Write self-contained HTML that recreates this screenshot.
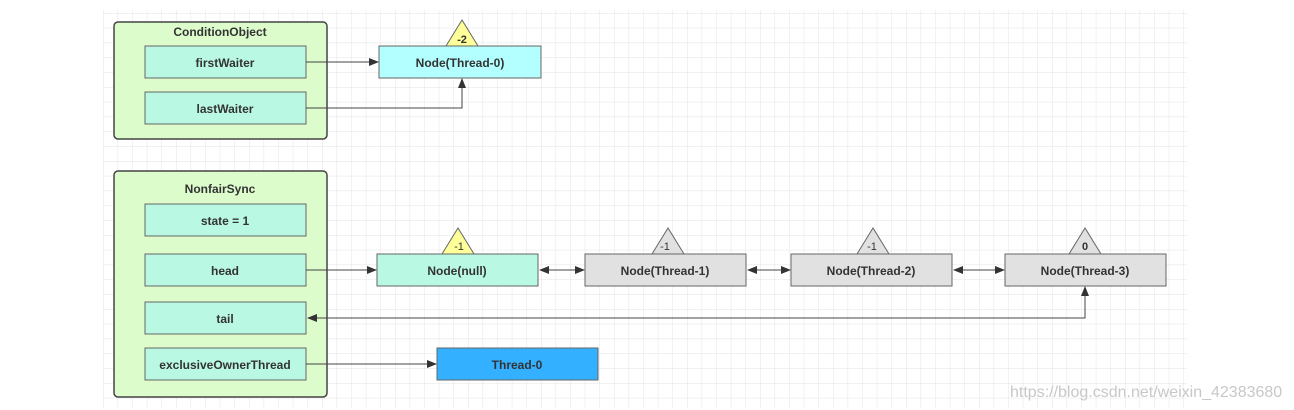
<!DOCTYPE html>
<html><head><meta charset="utf-8"><style>
html,body{margin:0;padding:0;background:#fff;width:1294px;height:410px;overflow:hidden}
text{font-family:"Liberation Sans",sans-serif;font-weight:bold;font-size:12px;fill:#333}
.n{font-weight:normal}
</style></head><body>
<svg width="1294" height="410" viewBox="0 0 1294 410" xmlns="http://www.w3.org/2000/svg">
<defs>
<pattern id="g" x="103" y="13" width="14.6" height="14.8" patternUnits="userSpaceOnUse">
<path d="M0 0H14.6M0 0V14.8" stroke="#e3e3e3" stroke-width="1" fill="none"/>
</pattern>
<marker id="a" markerWidth="10" markerHeight="8" refX="9" refY="4" orient="auto" markerUnits="userSpaceOnUse">
<path d="M0 0L10 4L0 8z" fill="#333"/></marker>
<marker id="s" markerWidth="10" markerHeight="8" refX="1" refY="4" orient="auto" markerUnits="userSpaceOnUse">
<path d="M10 0L0 4L10 8z" fill="#333"/></marker>
</defs>
<rect x="103" y="10" width="1084" height="398" fill="url(#g)"/>
<g stroke="#444" stroke-width="1.5">
<rect x="114" y="22" width="213" height="117" rx="4" fill="#ddfccc"/>
<rect x="114" y="171" width="213" height="226" rx="4" fill="#ddfccc"/>
</g>
<g stroke="#666" stroke-width="1" fill="#b9f8e3">
<rect x="145" y="46" width="161" height="32"/>
<rect x="145" y="92" width="161" height="32"/>
<rect x="145" y="204" width="161" height="32"/>
<rect x="145" y="254" width="161" height="32"/>
<rect x="145" y="302" width="161" height="32"/>
<rect x="145" y="348" width="161" height="32"/>
<rect x="377" y="254" width="161" height="32"/>
<rect x="379" y="46" width="162" height="32" fill="#b3ffff"/>
<rect x="437" y="348" width="161" height="32" fill="#33b0ff"/>
<rect x="585" y="254" width="161" height="32" fill="#e1e1e1"/>
<rect x="791" y="254" width="161" height="32" fill="#e1e1e1"/>
<rect x="1005" y="254" width="161" height="32" fill="#e1e1e1"/>
</g>
<g stroke="#666" stroke-width="1">
<path d="M462 20L446 46H478z" fill="#ffff99"/>
<path d="M458 228L442 254H474z" fill="#ffff99"/>
<path d="M668 228L652 254H684z" fill="#e1e1e1"/>
<path d="M873 228L857 254H889z" fill="#e1e1e1"/>
<path d="M1085 228L1069 254H1101z" fill="#e1e1e1"/>
</g>
<g stroke="#444" stroke-width="1" fill="none">
<path d="M306 62H378" marker-end="url(#a)"/>
<path d="M306 108H462V79" marker-end="url(#a)"/>
<path d="M306 270H376" marker-end="url(#a)"/>
<path d="M540 270H584" marker-start="url(#s)" marker-end="url(#a)"/>
<path d="M748 270H790" marker-start="url(#s)" marker-end="url(#a)"/>
<path d="M954 270H1004" marker-start="url(#s)" marker-end="url(#a)"/>
<path d="M1085 287V318H308" marker-start="url(#s)" marker-end="url(#a)"/>
<path d="M306 364H436" marker-end="url(#a)"/>
</g>
<g text-anchor="middle">
<text x="220" y="36">ConditionObject</text>
<text x="225" y="67">firstWaiter</text>
<text x="225" y="113">lastWaiter</text>
<text x="460" y="67">Node(Thread-0)</text>
<text x="462" y="43" style="font-size:11px">-2</text>
<text x="220" y="193">NonfairSync</text>
<text x="225" y="225">state = 1</text>
<text x="225" y="275">head</text>
<text x="225" y="323">tail</text>
<text x="225" y="369">exclusiveOwnerThread</text>
<text x="457" y="275">Node(null)</text>
<text x="517" y="369">Thread-0</text>
<text x="665" y="275">Node(Thread-1)</text>
<text x="871" y="275">Node(Thread-2)</text>
<text x="1085" y="275">Node(Thread-3)</text>
<text class="n" x="459" y="250" style="font-size:11px">-1</text>
<text class="n" x="665" y="250" style="font-size:11px">-1</text>
<text class="n" x="872" y="250" style="font-size:11px">-1</text>
<text x="1085" y="250" style="font-size:11px">0</text>
</g>
<text x="1010" y="397" style="font-weight:normal;font-size:16px;fill:#c8c8c8">https://blog.csdn.net/weixin_42383680</text>
</svg>
</body></html>
